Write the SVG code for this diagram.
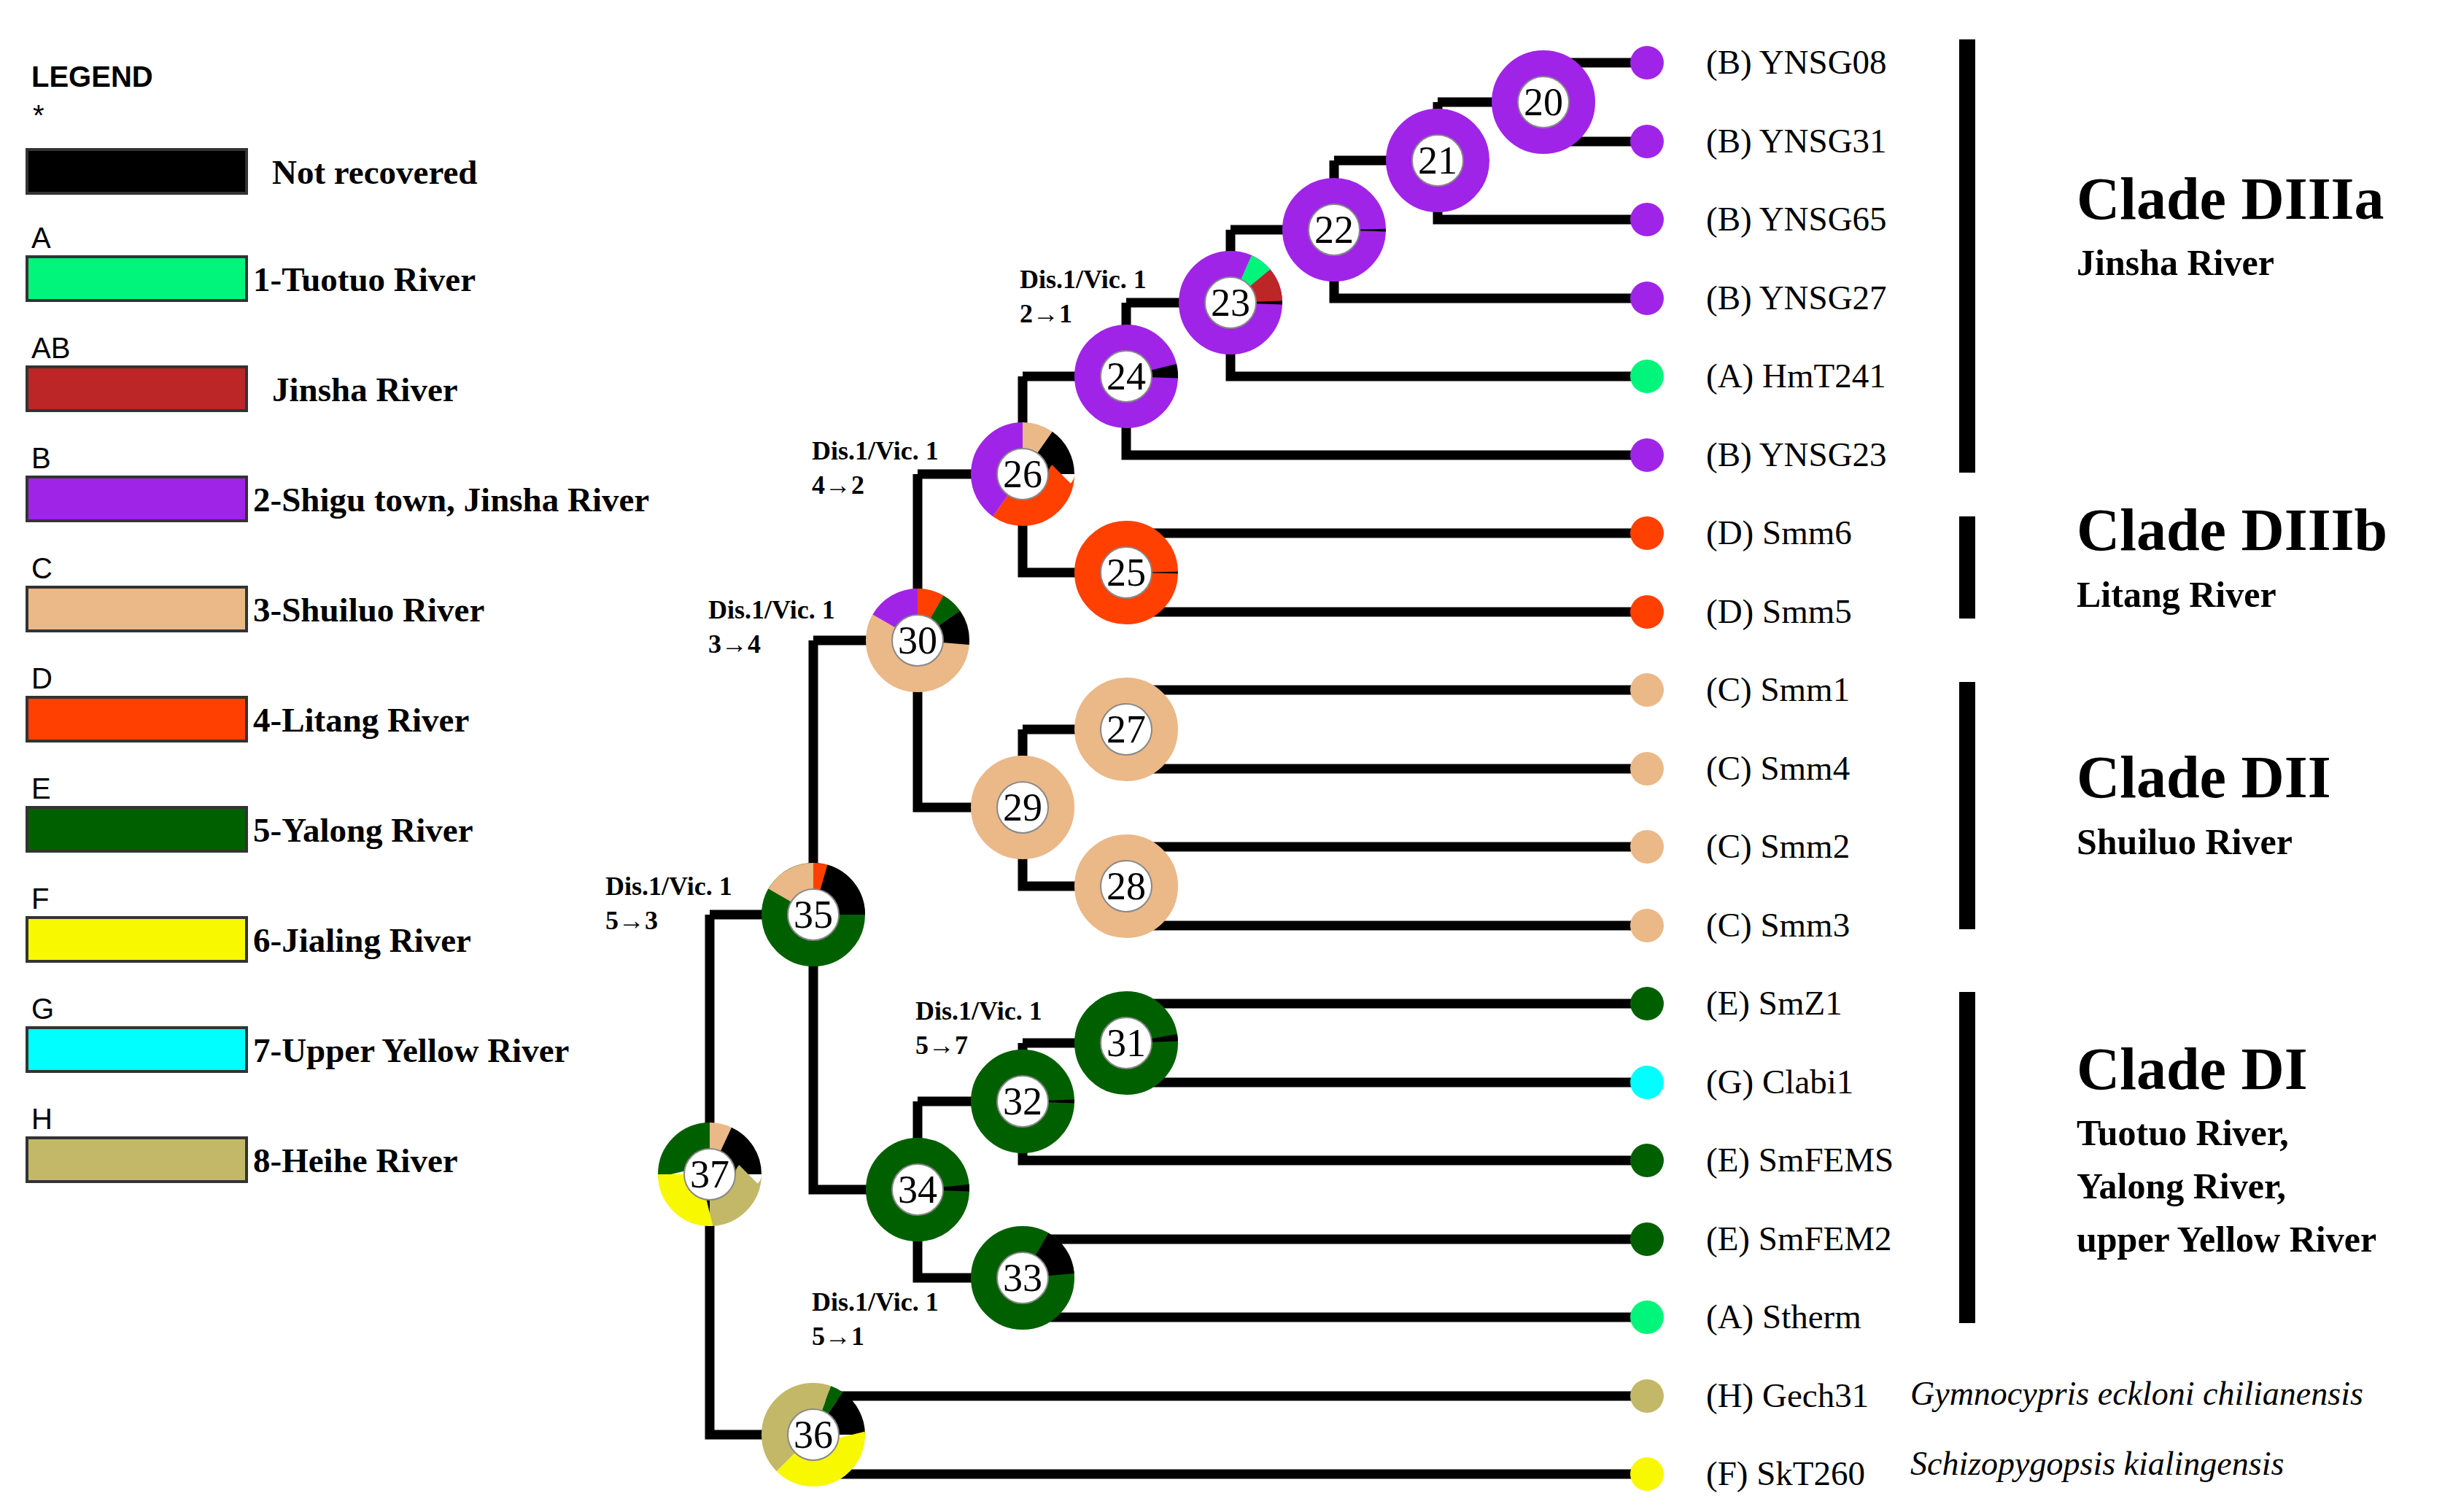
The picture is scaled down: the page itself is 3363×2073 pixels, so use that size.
<svg xmlns="http://www.w3.org/2000/svg" width="3363" height="2073" viewBox="0 0 3363 2073">
<style>
text{font-family:"Liberation Serif",serif;fill:#000}
.lg{font-family:"Liberation Sans",sans-serif;font-size:40px}
.lt{font-size:47px;font-weight:bold}
.lf{font-size:47px}
.dv{font-size:36px;font-weight:bold}
.num{font-size:54px;text-anchor:middle}
.ct{font-size:82px;font-weight:bold}
.cs{font-size:50px;font-weight:bold}
.sp{font-size:46px;font-style:italic}
.r{fill:none;stroke-width:36}
.in{fill:#fff;stroke:#888;stroke-width:2}
.e{fill:none;stroke:#000;stroke-width:13}
.bx{stroke:#333;stroke-width:4}
.P{stroke:#a024e8}.G{stroke:#00f57a}.R{stroke:#bd2626}.T{stroke:#ebb887}.O{stroke:#ff4000}.D{stroke:#006000}.Y{stroke:#f8f800}.C{stroke:#00ffff}.K{stroke:#c2b868}.B{stroke:#000}
</style>
<rect width="3363" height="2073" fill="#fff"/>
<g id="legend">
<text x="43" y="119" class="lg" font-weight="bold" font-size="46">LEGEND</text>
<text x="45" y="172" class="lg" font-size="30">*</text>
<rect x="37" y="205" width="301" height="60" fill="#000" class="bx"/><text x="373" y="252" class="lt">Not recovered</text>
<text x="43" y="340" class="lg">A</text><rect x="37" y="352" width="301" height="60" fill="#00f57a" class="bx"/><text x="347" y="399" class="lt">1-Tuotuo River</text>
<text x="43" y="491" class="lg">AB</text><rect x="37" y="503" width="301" height="60" fill="#bd2626" class="bx"/><text x="373" y="550" class="lt">Jinsha River</text>
<text x="43" y="642" class="lg">B</text><rect x="37" y="654" width="301" height="60" fill="#a024e8" class="bx"/><text x="347" y="701" class="lt">2-Shigu town, Jinsha River</text>
<text x="43" y="793" class="lg">C</text><rect x="37" y="805" width="301" height="60" fill="#ebb887" class="bx"/><text x="347" y="852" class="lt">3-Shuiluo River</text>
<text x="43" y="944" class="lg">D</text><rect x="37" y="956" width="301" height="60" fill="#ff4000" class="bx"/><text x="347" y="1003" class="lt">4-Litang River</text>
<text x="43" y="1095" class="lg">E</text><rect x="37" y="1107" width="301" height="60" fill="#006000" class="bx"/><text x="347" y="1154" class="lt">5-Yalong River</text>
<text x="43" y="1246" class="lg">F</text><rect x="37" y="1258" width="301" height="60" fill="#f8f800" class="bx"/><text x="347" y="1305" class="lt">6-Jialing River</text>
<text x="43" y="1397" class="lg">G</text><rect x="37" y="1409" width="301" height="60" fill="#00ffff" class="bx"/><text x="347" y="1456" class="lt">7-Upper Yellow River</text>
<text x="43" y="1548" class="lg">H</text><rect x="37" y="1560" width="301" height="60" fill="#c2b868" class="bx"/><text x="347" y="1607" class="lt">8-Heihe River</text>
</g>
<g id="connectors">
<path class="e" d="M2116 86V194M2116 86H2258M2116 194H2258
M1971 140V301H2258M1971 140H2116
M1829 220V409H2258M1829 220H1971
M1687 315V516H2258M1687 315H1829
M1544 415V624H2258M1544 415H1687
M1402 516V785H1544M1402 516H1544
M1544 731V839H2258M1544 731H2258
M1258 650V1107H1402M1258 650H1402
M1402 1000V1215H1544M1402 1000H1544
M1544 946V1054H2258M1544 946H2258
M1544 1161V1269H2258M1544 1161H2258
M1115 878V1631H1258M1115 878H1258
M1258 1510V1752H1402M1258 1510H1402
M1402 1430V1591H2258M1402 1430H1544
M1544 1376V1484H2258M1544 1376H2258
M1402 1699V1806H2258M1402 1699H2258
M973 1254V1967H1115M973 1254H1115
M1115 1914V2021H2258M1115 1914H2258"/>
</g>
<g id="leaves">
<circle cx="2258" cy="86" r="23" fill="#a024e8"/><text x="2339" y="101" class="lf">(B) YNSG08</text>
<circle cx="2258" cy="194" r="23" fill="#a024e8"/><text x="2339" y="209" class="lf">(B) YNSG31</text>
<circle cx="2258" cy="301" r="23" fill="#a024e8"/><text x="2339" y="316" class="lf">(B) YNSG65</text>
<circle cx="2258" cy="409" r="23" fill="#a024e8"/><text x="2339" y="424" class="lf">(B) YNSG27</text>
<circle cx="2258" cy="516" r="23" fill="#00f57a"/><text x="2339" y="531" class="lf">(A) HmT241</text>
<circle cx="2258" cy="624" r="23" fill="#a024e8"/><text x="2339" y="639" class="lf">(B) YNSG23</text>
<circle cx="2258" cy="731" r="23" fill="#ff4000"/><text x="2339" y="746" class="lf">(D) Smm6</text>
<circle cx="2258" cy="839" r="23" fill="#ff4000"/><text x="2339" y="854" class="lf">(D) Smm5</text>
<circle cx="2258" cy="946" r="23" fill="#ebb887"/><text x="2339" y="961" class="lf">(C) Smm1</text>
<circle cx="2258" cy="1054" r="23" fill="#ebb887"/><text x="2339" y="1069" class="lf">(C) Smm4</text>
<circle cx="2258" cy="1161" r="23" fill="#ebb887"/><text x="2339" y="1176" class="lf">(C) Smm2</text>
<circle cx="2258" cy="1269" r="23" fill="#ebb887"/><text x="2339" y="1284" class="lf">(C) Smm3</text>
<circle cx="2258" cy="1376" r="23" fill="#006000"/><text x="2339" y="1391" class="lf">(E) SmZ1</text>
<circle cx="2258" cy="1484" r="23" fill="#00ffff"/><text x="2339" y="1499" class="lf">(G) Clabi1</text>
<circle cx="2258" cy="1591" r="23" fill="#006000"/><text x="2339" y="1606" class="lf">(E) SmFEMS</text>
<circle cx="2258" cy="1699" r="23" fill="#006000"/><text x="2339" y="1714" class="lf">(E) SmFEM2</text>
<circle cx="2258" cy="1806" r="23" fill="#00f57a"/><text x="2339" y="1821" class="lf">(A) Stherm</text>
<circle cx="2258" cy="1914" r="23" fill="#c2b868"/><text x="2339" y="1929" class="lf">(H) Gech31</text>
<circle cx="2258" cy="2021" r="23" fill="#f8f800"/><text x="2339" y="2036" class="lf">(F) SkT260</text>
<text x="2619" y="1926" class="sp">Gymnocypris eckloni chilianensis</text>
<text x="2619" y="2022" class="sp">Schizopygopsis kialingensis</text>
</g>
<g id="n20" transform="translate(2116 140)"><circle r="53" class="r P"/><circle r="35" class="in"/><text y="18" class="num">20</text></g>
<g id="n21" transform="translate(1971 220)"><circle r="53" class="r P"/><circle r="35" class="in"/><text y="18" class="num">21</text></g>
<g id="n22" transform="translate(1829 315)"><circle r="53" class="r P"/><circle r="53" class="r B" transform="rotate(-90)" pathLength="360" stroke-dasharray="3 360" stroke-dashoffset="-89"/><circle r="35" class="in"/><text y="18" class="num">22</text></g>
<g id="n23" transform="translate(1687 415)"><circle r="53" class="r P"/><g transform="rotate(-90)"><circle r="53" class="r G" pathLength="360" stroke-dasharray="26 360" stroke-dashoffset="-24"/><circle r="53" class="r R" pathLength="360" stroke-dasharray="38 360" stroke-dashoffset="-50"/><circle r="53" class="r B" pathLength="360" stroke-dasharray="4 360" stroke-dashoffset="-88"/></g><circle r="35" class="in"/><text y="18" class="num">23</text></g>
<g id="n24" transform="translate(1544 516)"><circle r="53" class="r P"/><circle r="53" class="r B" transform="rotate(-90)" pathLength="360" stroke-dasharray="16 360" stroke-dashoffset="-76"/><circle r="35" class="in"/><text y="18" class="num">24</text></g>
<g id="n25" transform="translate(1544 785)"><circle r="53" class="r O"/><circle r="53" class="r B" transform="rotate(-90)" pathLength="360" stroke-dasharray="2 360" stroke-dashoffset="-89"/><circle r="35" class="in"/><text y="18" class="num">25</text></g>
<g id="n26" transform="translate(1402 650)"><g transform="rotate(-90)"><circle r="53" class="r P" pathLength="360" stroke-dasharray="145 360" stroke-dashoffset="-215"/><circle r="53" class="r T" pathLength="360" stroke-dasharray="35 360"/><circle r="53" class="r B" pathLength="360" stroke-dasharray="55 360" stroke-dashoffset="-35"/><circle r="53" class="r O" pathLength="360" stroke-dasharray="125 360" stroke-dashoffset="-90"/></g><circle r="35" class="in"/><text y="18" class="num">26</text></g>
<g id="n27" transform="translate(1544 1000)"><circle r="53" class="r T"/><circle r="35" class="in"/><text y="18" class="num">27</text></g>
<g id="n28" transform="translate(1544 1215)"><circle r="53" class="r T"/><circle r="35" class="in"/><text y="18" class="num">28</text></g>
<g id="n29" transform="translate(1402 1107)"><circle r="53" class="r T"/><circle r="35" class="in"/><text y="18" class="num">29</text></g>
<g id="n30" transform="translate(1258 878)"><circle r="53" class="r T"/><g transform="rotate(-90)"><circle r="53" class="r P" pathLength="360" stroke-dasharray="60 360" stroke-dashoffset="-300"/><circle r="53" class="r O" pathLength="360" stroke-dasharray="30 360"/><circle r="53" class="r D" pathLength="360" stroke-dasharray="25 360" stroke-dashoffset="-30"/><circle r="53" class="r B" pathLength="360" stroke-dasharray="40 360" stroke-dashoffset="-55"/></g><circle r="35" class="in"/><text y="18" class="num">30</text></g>
<g id="n31" transform="translate(1544 1430)"><circle r="53" class="r D"/><circle r="53" class="r B" transform="rotate(-90)" pathLength="360" stroke-dasharray="8 360" stroke-dashoffset="-80"/><circle r="35" class="in"/><text y="18" class="num">31</text></g>
<g id="n32" transform="translate(1402 1510)"><circle r="53" class="r D"/><circle r="53" class="r B" transform="rotate(-90)" pathLength="360" stroke-dasharray="4 360" stroke-dashoffset="-88"/><circle r="35" class="in"/><text y="18" class="num">32</text></g>
<g id="n33" transform="translate(1402 1752)"><circle r="53" class="r D"/><circle r="53" class="r B" transform="rotate(-90)" pathLength="360" stroke-dasharray="55 360" stroke-dashoffset="-30"/><circle r="35" class="in"/><text y="18" class="num">33</text></g>
<g id="n34" transform="translate(1258 1631)"><circle r="53" class="r D"/><circle r="53" class="r B" transform="rotate(-90)" pathLength="360" stroke-dasharray="8 360" stroke-dashoffset="-84"/><circle r="35" class="in"/><text y="18" class="num">34</text></g>
<g id="n35" transform="translate(1115 1254)"><circle r="53" class="r D"/><g transform="rotate(-90)"><circle r="53" class="r T" pathLength="360" stroke-dasharray="60 360" stroke-dashoffset="-300"/><circle r="53" class="r O" pathLength="360" stroke-dasharray="16 360"/><circle r="53" class="r B" pathLength="360" stroke-dasharray="74 360" stroke-dashoffset="-16"/></g><circle r="35" class="in"/><text y="18" class="num">35</text></g>
<g id="n36" transform="translate(1115 1967)"><g transform="rotate(-90)"><circle r="53" class="r K" pathLength="360" stroke-dasharray="135 360" stroke-dashoffset="-225"/><circle r="53" class="r K" pathLength="360" stroke-dasharray="20 360"/><circle r="53" class="r D" pathLength="360" stroke-dasharray="15 360" stroke-dashoffset="-20"/><circle r="53" class="r B" pathLength="360" stroke-dasharray="55 360" stroke-dashoffset="-35"/><circle r="53" class="r Y" pathLength="360" stroke-dasharray="135 360" stroke-dashoffset="-90"/></g><circle r="35" class="in"/><text y="18" class="num">36</text></g>
<g id="n37" transform="translate(973 1610)"><g transform="rotate(-90)"><circle r="53" class="r D" pathLength="360" stroke-dasharray="90 360" stroke-dashoffset="-270"/><circle r="53" class="r T" pathLength="360" stroke-dasharray="25 360"/><circle r="53" class="r B" pathLength="360" stroke-dasharray="65 360" stroke-dashoffset="-25"/><circle r="53" class="r K" pathLength="360" stroke-dasharray="90 360" stroke-dashoffset="-90"/><circle r="53" class="r Y" pathLength="360" stroke-dasharray="90 360" stroke-dashoffset="-180"/></g><circle r="35" class="in"/><text y="18" class="num">37</text></g>
<g id="events">
<text x="1398" y="395" class="dv">Dis.1/Vic. 1</text><text x="1398" y="442" class="dv">2→1</text>
<text x="1113" y="630" class="dv">Dis.1/Vic. 1</text><text x="1113" y="677" class="dv">4→2</text>
<text x="971" y="848" class="dv">Dis.1/Vic. 1</text><text x="971" y="895" class="dv">3→4</text>
<text x="830" y="1227" class="dv">Dis.1/Vic. 1</text><text x="830" y="1274" class="dv">5→3</text>
<text x="1255" y="1398" class="dv">Dis.1/Vic. 1</text><text x="1255" y="1445" class="dv">5→7</text>
<text x="1113" y="1797" class="dv">Dis.1/Vic. 1</text><text x="1113" y="1844" class="dv">5→1</text>
</g>
<g id="clades">
<rect x="2686" y="54" width="22" height="594" fill="#000"/>
<rect x="2686" y="708" width="22" height="140" fill="#000"/>
<rect x="2686" y="935" width="22" height="339" fill="#000"/>
<rect x="2686" y="1360" width="22" height="454" fill="#000"/>
<text x="2847" y="300" class="ct">Clade DIIIa</text><text x="2847" y="377" class="cs">Jinsha River</text>
<text x="2847" y="754" class="ct">Clade DIIIb</text><text x="2847" y="832" class="cs">Litang River</text>
<text x="2847" y="1093" class="ct">Clade DII</text><text x="2847" y="1171" class="cs">Shuiluo River</text>
<text x="2847" y="1493" class="ct">Clade DI</text><text x="2847" y="1570" class="cs">Tuotuo River,</text><text x="2847" y="1643" class="cs">Yalong River,</text><text x="2847" y="1716" class="cs">upper Yellow River</text>
</g>
</svg>
